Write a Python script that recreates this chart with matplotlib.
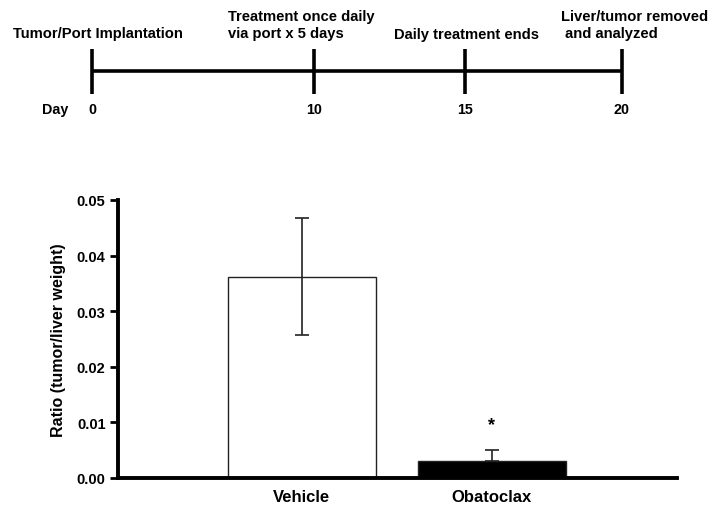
import matplotlib
matplotlib.use("Agg")
import matplotlib.pyplot as plt

plt.rcParams['font.family'] = ['Liberation Sans', 'DejaVu Sans']
plt.rcParams['font.weight'] = 'bold'

# ---- data ----
timeline_days = [0, 10, 15, 20]
timeline_pos = [0.0, 0.419, 0.704, 1.0]   # schematic (non-linear) placement
timeline_events = ["Tumor/Port Implantation",
                   "Treatment once daily\nvia port x 5 days",
                   "Daily treatment ends",
                   "Liver/tumor removed\n and analyzed"]

groups = ["Vehicle", "Obatoclax"]
ratio = [0.0362, 0.0031]
sem = [0.0105, 0.0020]
bar_colors = ["white", "black"]
yticks = [0.00, 0.01, 0.02, 0.03, 0.04, 0.05]
sig_marks = ["", "*"]

W, H = 713, 510
fig = plt.figure(figsize=(W / 100, H / 100), dpi=100)

# ---- timeline ----
tl = fig.add_axes([92 / W, 1 - 125 / H, 530 / W, 125 / H])
tl.set_xlim(0, 1)
tl.set_ylim(125, 0)
tl.axis('off')
tl.plot([timeline_pos[0], timeline_pos[-1]], [72, 72], color='black', lw=2.6,
        solid_capstyle='butt', clip_on=False)
tl.vlines(timeline_pos, 50, 95, color='black', lw=2.6, clip_on=False)
for p, d in zip(timeline_pos, timeline_days):
    tl.text(p, 110, str(d), ha='center', va='center', fontsize=10.3, fontweight='bold')
tl.text(-37 / 530, 110, "Day", ha='center', va='center', fontsize=10.3, fontweight='bold')

px = lambda x: (x - 92) / 530
fs_tl = 10.6
tl.text(px(98), 34, timeline_events[0], ha='center', va='center', fontsize=fs_tl,
        fontweight='bold', clip_on=False)
tl.text(px(228), 25.5, timeline_events[1], ha='left', va='center', fontsize=fs_tl,
        fontweight='bold', linespacing=1.25, clip_on=False)
tl.text(px(466), 35, timeline_events[2], ha='center', va='center', fontsize=fs_tl,
        fontweight='bold', clip_on=False)
tl.text(px(561), 25.5, timeline_events[3], ha='left', va='center', fontsize=fs_tl,
        fontweight='bold', linespacing=1.25, clip_on=False)

# ---- bar chart ----
ax = fig.add_axes([118 / W, 1 - 479 / H, (677 - 118) / W, (479 - 201) / H])
x = [1, 2]
ax.bar(x, ratio, width=0.78, color=bar_colors, edgecolor='#222222', linewidth=1.0,
       zorder=2)
ax.errorbar(x[0], ratio[0], yerr=sem[0], fmt='none', ecolor='#222222',
            elinewidth=1.2, capsize=5, capthick=1.2, zorder=3)
ax.errorbar(x[1], ratio[1], yerr=[[0], [sem[1]]], fmt='none', ecolor='#222222',
            elinewidth=1.2, capsize=5, capthick=1.2, zorder=3)
for xi, r, s, m in zip(x, ratio, sem, sig_marks):
    if m:
        ax.text(xi, r + s + 0.0045, m, ha='center', va='center', fontsize=13,
                fontweight='bold')

ax.set_xlim(0.032, 2.974)
ax.set_ylim(0, 0.05)
ax.set_yticks(yticks)
ax.set_yticklabels([f"{v:.2f}" for v in yticks], fontsize=10.5, fontweight='bold')
ax.set_xticks(x)
ax.set_xticklabels(groups, fontsize=12, fontweight='bold')
ax.tick_params(axis='x', length=0, pad=8)
ax.tick_params(axis='y', direction='out', length=6, width=2, pad=3)
for s in ['top', 'right']:
    ax.spines[s].set_visible(False)
ax.spines['left'].set_linewidth(2.8)
ax.spines['bottom'].set_linewidth(2.8)
ax.set_ylabel("Ratio (tumor/liver weight)", fontsize=11.5, fontweight='bold',
              labelpad=8)

fig.savefig("out.png", dpi=100)
